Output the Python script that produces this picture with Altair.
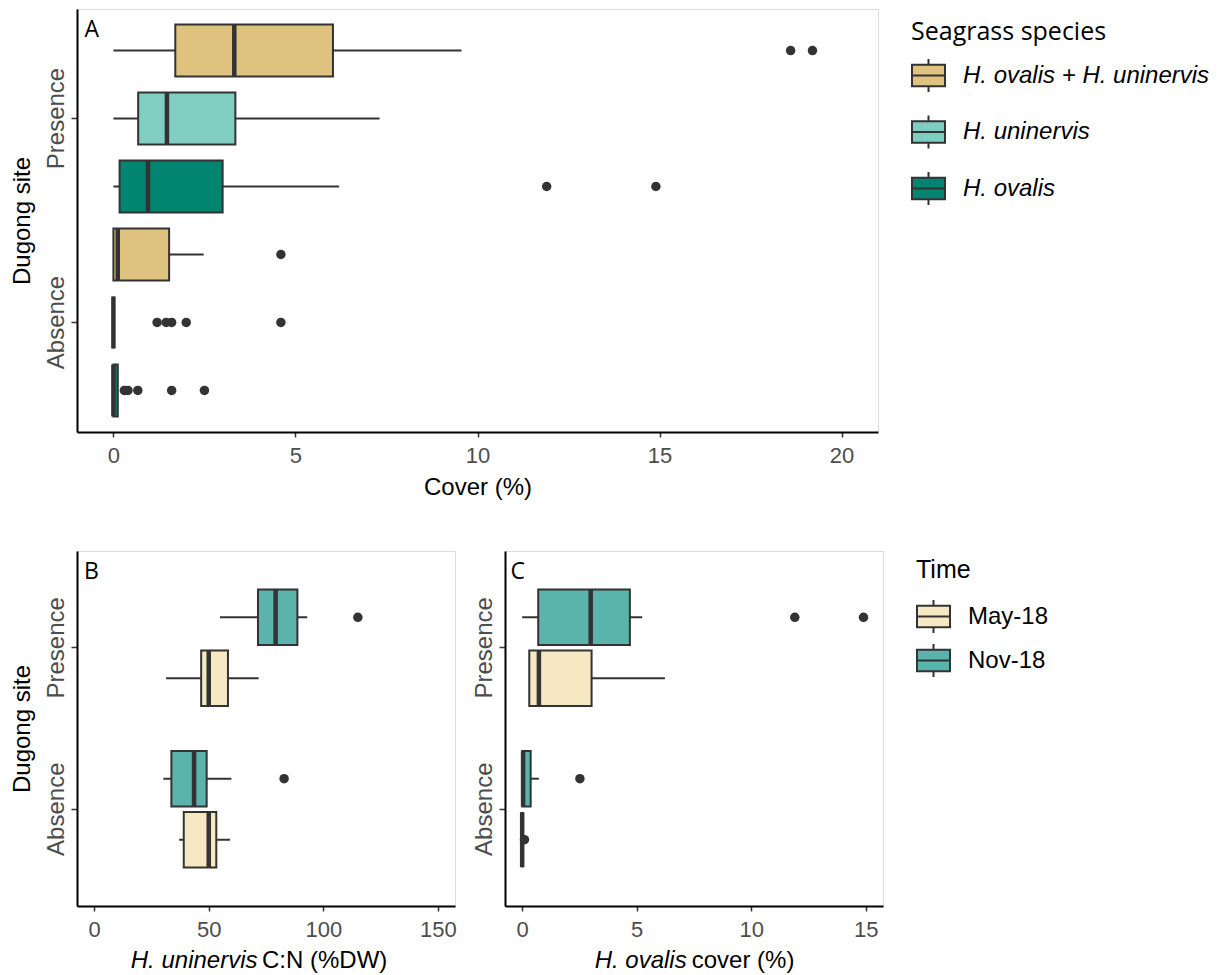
import altair as alt
import pandas as pd

# ---------------- data ----------------
SITES = ["Presence", "Absence"]

# Panel A : seagrass cover (%) by species
A_SPECIES = ["H. ovalis + H. uninervis", "H. uninervis", "H. ovalis"]
A_COLORS = ["#DFC27D", "#80CDC1", "#018571"]
A_site = ["Presence", "Presence", "Presence", "Absence", "Absence", "Absence"]
A_grp = A_SPECIES + A_SPECIES
A_low = [0.0, 0.0, 0.0, 0.0, 0.0, 0.0]
A_q1 = [1.70, 0.68, 0.17, 0.0, 0.0, 0.0]
A_med = [3.32, 1.47, 0.95, 0.12, 0.0, 0.0]
A_q3 = [6.03, 3.35, 3.00, 1.53, 0.0, 0.12]
A_high = [9.56, 7.31, 6.20, 2.48, 0.0, 0.12]
A_out = [[18.6, 19.2], [], [11.9, 14.9], [4.6],
         [1.2, 1.45, 1.6, 2.0, 4.6], [0.3, 0.4, 0.67, 1.6, 2.5]]

# Panel B : H. uninervis C:N by time
TIMES = ["May-18", "Nov-18"]
T_COLORS = ["#F6E8C3", "#5AB4AC"]
B_site = ["Presence", "Presence", "Absence", "Absence"]
B_grp = ["Nov-18", "May-18", "Nov-18", "May-18"]
B_low = [54.9, 31.4, 30.2, 37.1]
B_q1 = [71.5, 46.7, 33.7, 39.1]
B_med = [79.2, 50.0, 43.6, 50.0]
B_q3 = [88.7, 58.4, 49.1, 53.3]
B_high = [93.0, 71.8, 59.9, 59.3]
B_out = [[115.1], [], [82.9], []]

# Panel C : H. ovalis cover by time
C_site = ["Presence", "Presence", "Absence", "Absence"]
C_grp = ["Nov-18", "May-18", "Nov-18", "May-18"]
C_low = [0.0, 0.31, 0.0, 0.0]
C_q1 = [0.70, 0.31, 0.0, 0.0]
C_med = [2.99, 0.73, 0.04, 0.0]
C_q3 = [4.70, 3.03, 0.37, 0.0]
C_high = [5.24, 6.23, 0.73, 0.0]
C_out = [[11.9, 14.9], [], [2.52], [0.1]]

# ---------------- helpers ----------------
FONT = "Liberation Sans"
DARK = "#333333"
SYMBOL = "M-1,-0.65H1V0.65H-1Z M-1,0H1 M0,-0.65V-1 M0,0.65V1"


def box_df(site, grp, low, q1, med, q3, high):
    return pd.DataFrame(dict(site=site, grp=grp, low=low, q1=q1, med=med, q3=q3, high=high))


def out_df(site, grp, outs):
    rows = []
    for s, g, o in zip(site, grp, outs):
        for v in o:
            rows.append(dict(site=s, grp=g, value=v))
    return pd.DataFrame(rows)


def one():
    return alt.Data(values=[{"k": 1}])


def panel(bdf, odf, grp_order, cdom, crange, xdom, xticks, W, H, y_po,
          off_pi, off_po, box_h, legend, ytitle, ytitle_x, yextent, xtitle,
          letter, letter_x, title_parts=None):
    xaxis = alt.Axis(values=xticks, title=xtitle, grid=False,
                     domainColor="black", domainWidth=2,
                     tickColor=DARK, tickSize=5, tickWidth=1.5,
                     labelFont=FONT, labelFontSize=22, labelColor="#4D4D4D",
                     labelPadding=8, labelFlush=False, labelOverlap=False,
                     titleFont=FONT, titleFontSize=24, titleFontWeight="normal",
                     titleColor="black", titleBaseline="alphabetic", titleY=62)
    yaxis_kw = dict(grid=False, domainColor="black", domainWidth=2,
                    tickColor=DARK, tickSize=6, tickWidth=1.5,
                    labelFont=FONT, labelFontSize=24, labelColor="#4D4D4D",
                    labelAngle=270, labelAlign="center", labelBaseline="alphabetic",
                    labelPadding=7.5, minExtent=yextent, maxExtent=yextent)
    if ytitle:
        yaxis = alt.Axis(title=ytitle, titleFont=FONT, titleFontSize=24,
                         titleFontWeight="normal", titleColor="black",
                         titleAngle=270, titleBaseline="alphabetic",
                         titleAlign="center", titleX=ytitle_x, titleY=H / 2,
                         **yaxis_kw)
    else:
        yaxis = alt.Axis(title=None, **yaxis_kw)

    xs = alt.Scale(domain=xdom, nice=False, zero=False)
    Y = alt.Y("site:N", scale=alt.Scale(domain=SITES, paddingInner=0, paddingOuter=y_po), axis=yaxis)
    YO = alt.YOffset("grp:N", scale=alt.Scale(domain=grp_order, paddingInner=off_pi, paddingOuter=off_po))

    def X(field):
        return alt.X(field, type="quantitative", scale=xs, axis=xaxis)

    whisk = alt.Chart(bdf).mark_rule(color=DARK, strokeWidth=2).encode(
        x=X("low"), x2="high:Q", y=Y, yOffset=YO)
    bars = alt.Chart(bdf).mark_bar(stroke=DARK, strokeWidth=2, opacity=1).encode(
        x=X("q1"), x2="q3:Q", y=Y, yOffset=YO,
        color=alt.Color("grp:N", scale=alt.Scale(domain=cdom, range=crange), legend=legend))
    meds = alt.Chart(bdf).mark_tick(color=DARK, thickness=4.5, size=box_h, orient="vertical", opacity=1).encode(
        x=X("med"), y=Y, yOffset=YO)
    outs = alt.Chart(odf).mark_circle(color=DARK, size=90, opacity=1).encode(
        x=X("value"), y=Y, yOffset=YO)
    lab = alt.Chart(one()).mark_text(font="Open Sans", fontSize=23, align="left",
                                     baseline="alphabetic", color="black").encode(
        x=alt.value(letter_x), y=alt.value(28), text=alt.value(letter))
    layers = [whisk, bars, meds, outs, lab]
    if title_parts:
        (it_txt, it_x), (rg_txt, rg_x) = title_parts
        layers.append(alt.Chart(one()).mark_text(font=FONT, fontSize=24, fontStyle="italic",
                                                 align="right", baseline="alphabetic", color="black").encode(
            x=alt.value(it_x), y=alt.value(H + 62), text=alt.value(it_txt)))
        layers.append(alt.Chart(one()).mark_text(font=FONT, fontSize=24,
                                                 align="left", baseline="alphabetic", color="black").encode(
            x=alt.value(rg_x), y=alt.value(H + 62), text=alt.value(rg_txt)))
    return alt.layer(*layers).properties(width=W, height=H)


legA = alt.Legend(orient="none", legendX=834, legendY=11, title="Seagrass species",
                  titleFont="Open Sans", titleFontSize=25, titleFontWeight="normal",
                  titleColor="black", titlePadding=13, titleLimit=600,
                  labelFont=FONT, labelFontSize=24, labelFontStyle="italic",
                  labelColor="black", labelLimit=400, labelOffset=17, rowPadding=15.5,
                  symbolType=SYMBOL, symbolSize=1089, symbolStrokeColor=DARK,
                  symbolStrokeWidth=2, symbolOpacity=1)
legT = alt.Legend(orient="none", legendX=411, legendY=7, title="Time",
                  titleFont=FONT, titleFontSize=25, titleFontWeight="normal",
                  titleColor="black", titlePadding=16, titleLimit=600,
                  labelFont=FONT, labelFontSize=24, labelColor="black",
                  labelLimit=400, labelOffset=17, rowPadding=3,
                  symbolType=SYMBOL, symbolSize=1089, symbolStrokeColor=DARK,
                  symbolStrokeWidth=2, symbolOpacity=1)

pA = panel(box_df(A_site, A_grp, A_low, A_q1, A_med, A_q3, A_high),
           out_df(A_site, A_grp, A_out), A_SPECIES, A_SPECIES, A_COLORS,
           [-1, 21], [0, 5, 10, 15, 20], 801, 423, 0.037, 0.235, 0.1175, 52,
           legA, "Dugong site", -48, 68, "Cover (%)", "A", 7.5)

pB = panel(box_df(B_site, B_grp, B_low, B_q1, B_med, B_q3, B_high),
           out_df(B_site, B_grp, B_out), ["Nov-18", "May-18"], TIMES, T_COLORS,
           [-7.5, 157.5], [0, 50, 100, 150], 378, 355, 0.1, 0.09, 0.368, 55,
           None, "Dugong site", -48, 68, None, "B", 7,
           title_parts=(("H. uninervis", 180.5), ("C:N (%DW)", 185)))

pC = panel(box_df(C_site, C_grp, C_low, C_q1, C_med, C_q3, C_high),
           out_df(C_site, C_grp, C_out), ["Nov-18", "May-18"], TIMES, T_COLORS,
           [-0.75, 15.75], [0, 5, 10, 15], 378, 355, 0.1, 0.09, 0.368, 55,
           legT, None, 0, 31, None, "C", 5.5,
           title_parts=(("H. ovalis", 181.7), ("cover (%)", 186.7)))

bottom = alt.hconcat(pB, pC, spacing=15).resolve_scale(color="independent", yOffset="independent")
chart = alt.vconcat(pA, bottom, spacing=50).resolve_scale(
    color="independent", yOffset="independent"
).properties(
    padding={"left": 0, "top": 0, "right": 0, "bottom": 0}
).configure_view(stroke=None).configure(background="white")

chart.save("out.html", embed_options={"renderer": "svg", "actions": False})
